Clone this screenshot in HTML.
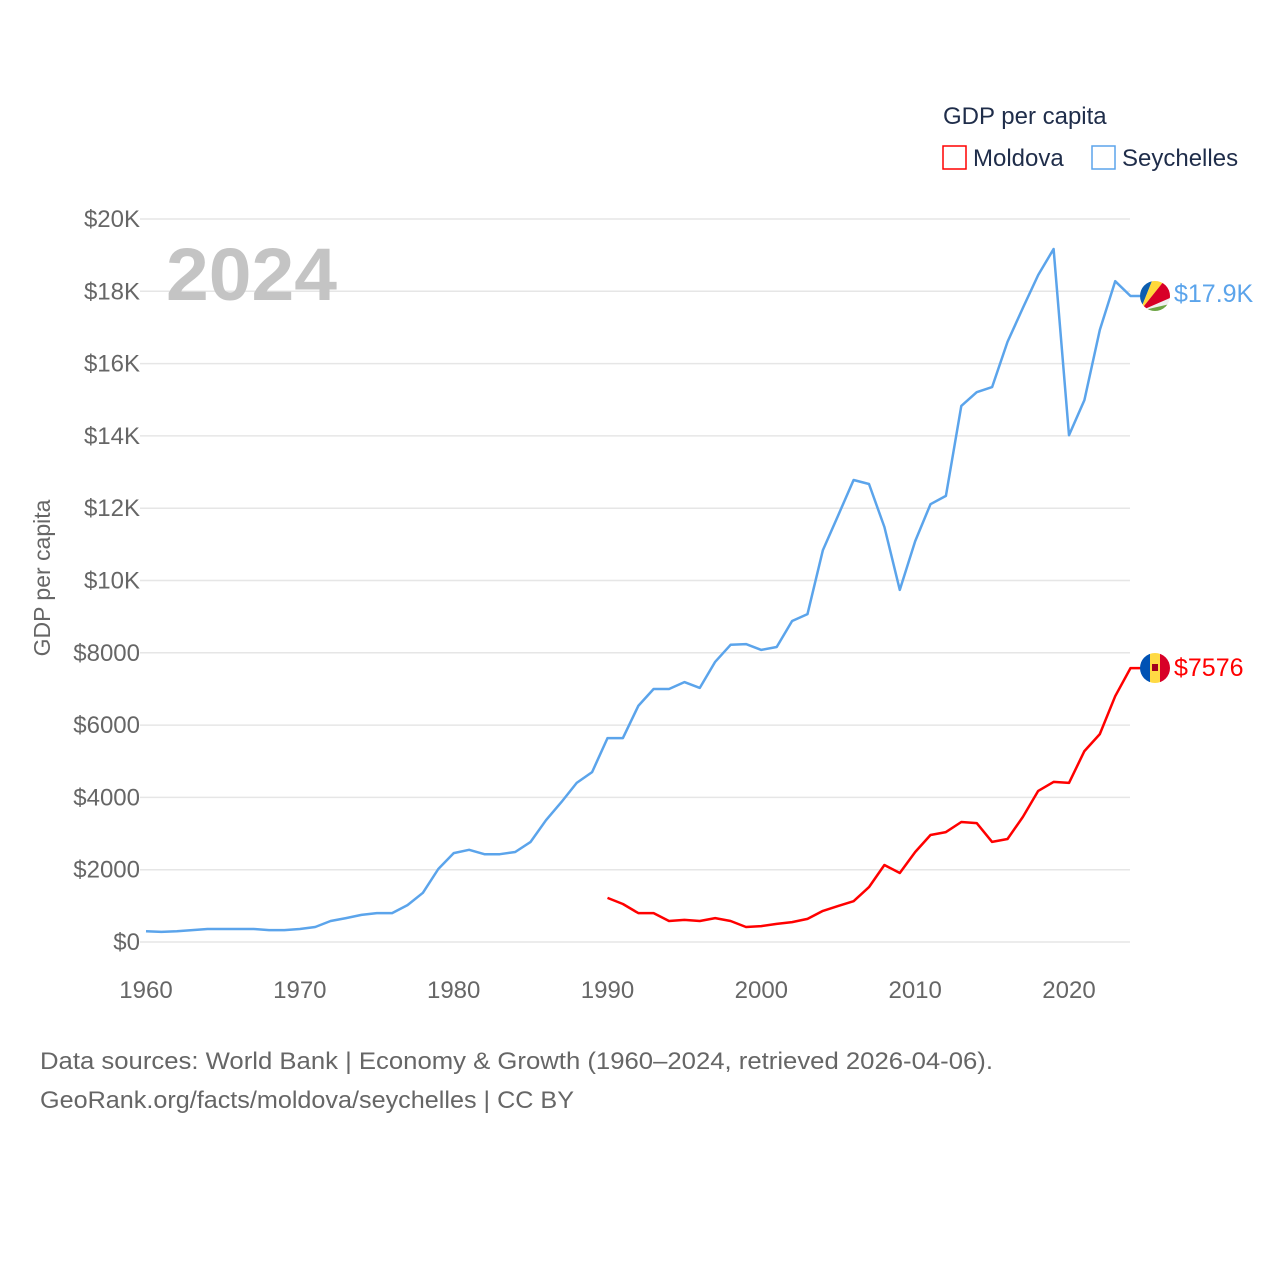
<!DOCTYPE html>
<html><head><meta charset="utf-8"><style>
html,body{margin:0;padding:0;background:#fff;}
svg{display:block;font-family:"Liberation Sans",sans-serif;}
</style></head><body>
<svg id="chart" width="1280" height="1280" viewBox="0 0 1280 1280" xmlns="http://www.w3.org/2000/svg">
<g id="grid"></g>
<g id="yticks"></g>
<g id="xticks"></g>
<text x="166" y="300" font-size="74" font-weight="bold" fill="#c4c4c4" textLength="171" lengthAdjust="spacingAndGlyphs">2024</text>
<text transform="translate(50,578) rotate(-90)" text-anchor="middle" font-size="23" fill="#666">GDP per capita</text>
<g id="lines"></g>
<g>
<text x="943" y="124" font-size="24" fill="#1f2d4a">GDP per capita</text>
<rect x="943" y="146" width="23" height="23" fill="#fff" stroke="#ff0000" stroke-width="1.5"/>
<text x="973" y="166" font-size="24" fill="#1f2d4a">Moldova</text>
<rect x="1092" y="146" width="23" height="23" fill="#fff" stroke="#5ba4eb" stroke-width="1.5"/>
<text x="1122" y="166" font-size="24" fill="#1f2d4a">Seychelles</text>
</g>
<text x="40" y="1069" font-size="24" fill="#666" textLength="953" lengthAdjust="spacingAndGlyphs">Data sources: World Bank | Economy &amp; Growth (1960–2024, retrieved 2026-04-06).</text>
<text x="40" y="1108" font-size="24" fill="#666" textLength="534" lengthAdjust="spacingAndGlyphs">GeoRank.org/facts/moldova/seychelles | CC BY</text>
<defs>
<clipPath id="c1"><circle cx="1155" cy="296" r="15"/></clipPath>
<clipPath id="c2"><circle cx="1155" cy="668" r="15"/></clipPath>
</defs>
</svg>
<script>
const years=[];for(let y=1960;y<=2024;y++)years.push(y);
const seychelles=[300,280,300,330,360,360,360,360,330,330,360,415,580,660,750,800,800,1020,1360,2020,2460,2550,2430,2430,2490,2770,3370,3870,4400,4700,5640,5640,6530,7000,7000,7190,7030,7750,8220,8240,8080,8160,8880,9070,10840,11810,12780,12670,11480,9740,11090,12110,12340,14830,15210,15350,16600,17540,18450,19170,14020,14990,16930,18280,17870];
const moldovaYears=[];for(let y=1990;y<=2024;y++)moldovaYears.push(y);
const moldova=[1220,1050,800,800,580,610,580,660,580,415,440,500,550,640,860,1000,1130,1520,2130,1910,2490,2960,3040,3320,3290,2770,2850,3460,4180,4430,4400,5280,5750,6800,7576];
const yTickValues=[0,2000,4000,6000,8000,10000,12000,14000,16000,18000,20000];
const yTickLabels=["$0","$2000","$4000","$6000","$8000","$10K","$12K","$14K","$16K","$18K","$20K"];
const xTickValues=[1960,1970,1980,1990,2000,2010,2020];
const NS="http://www.w3.org/2000/svg";
const X=y=>146+(y-1960)*(1069-146)/60;
const Y=v=>942-v*(942-219)/20000;
function mk(t,a,p){const e=document.createElementNS(NS,t);for(const k in a)e.setAttribute(k,a[k]);p.appendChild(e);return e;}
const grid=document.getElementById('grid'),yt=document.getElementById('yticks'),xt=document.getElementById('xticks'),lines=document.getElementById('lines');
yTickValues.forEach((v,i)=>{
 const l=mk('line',{x1:140,x2:1130,y1:Y(v),y2:Y(v),stroke:'#e6e6e6','stroke-width':1.5},grid);
 
 
 const t=mk('text',{x:140,y:Y(v)+8,'text-anchor':'end','font-size':24,fill:'#666'},yt);
 t.textContent=yTickLabels[i];
 
 
});
xTickValues.forEach(v=>{
 const t=mk('text',{x:X(v),y:998,'text-anchor':'middle','font-size':24,fill:'#666'},xt);
 t.textContent=v;
 
 
});
function series(xs,vs,col,name){
 let d=xs.map((y,i)=>(i?'L':'M')+X(y).toFixed(1)+','+Y(vs[i]).toFixed(1)).join(' ');
 d+=' L'+(X(xs[xs.length-1])+10).toFixed(1)+','+Y(vs[vs.length-1]).toFixed(1);
 const p=mk('path',{d:d,fill:'none',stroke:col,'stroke-width':2.5,'stroke-linejoin':'round'},lines);
 
 
}
series(years,seychelles,'#5ba4eb','line-seychelles');
series(moldovaYears,moldova,'#ff0000','line-moldova');
const sv=seychelles[seychelles.length-1],mv=moldova[moldova.length-1];
const sl=mk('text',{x:1174,y:Y(sv)+6,'font-size':25,fill:'#5ba4eb'},lines);
sl.textContent='$'+(sv/1000).toFixed(1)+'K';


const ml=mk('text',{x:1174,y:Y(mv)+8,'font-size':25,fill:'#ff0000'},lines);
ml.textContent='$'+mv;


const svg=document.getElementById('chart');
const f1=mk('g',{'clip-path':'url(#c1)'},svg);


mk('rect',{x:1140,y:281,width:30,height:30,fill:'#f0f0f0'},f1);
mk('polygon',{points:'1140,311 1140,281 1152,281',fill:'#0d5eaf'},f1);
mk('polygon',{points:'1140,311 1152,281 1164,281',fill:'#ffd93b'},f1);
mk('polygon',{points:'1140,311 1164,281 1170,281 1170,298',fill:'#d80027'},f1);
mk('polygon',{points:'1140,311 1170,304 1170,311',fill:'#6da544'},f1);
const f2=mk('g',{'clip-path':'url(#c2)'},svg);


mk('rect',{x:1140,y:653,width:10,height:30,fill:'#0052b4'},f2);
mk('rect',{x:1150,y:653,width:10,height:30,fill:'#ffda44'},f2);
mk('rect',{x:1160,y:653,width:10,height:30,fill:'#d80027'},f2);
mk('rect',{x:1152,y:664,width:6,height:7,fill:'#a2001d'},f2);
</script>
</body></html>
